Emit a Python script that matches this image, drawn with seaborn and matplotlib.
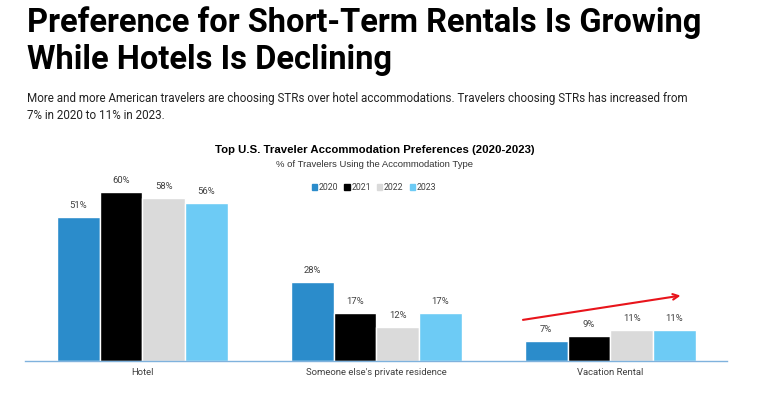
import matplotlib.pyplot as plt
import numpy as np
import pandas as pd
import seaborn as sns

categories = ["Hotel", "Someone else's private residence", "Vacation Rental"]
years = ["2020", "2021", "2022", "2023"]
share_2020 = [51, 28, 7]
share_2021 = [60, 17, 9]
share_2022 = [58, 12, 11]
share_2023 = [56, 17, 11]

colors = ["#2B8CCB", "#000000", "#DADADA", "#6DCBF5"]

rows = []
for yr, vals in zip(years, [share_2020, share_2021, share_2022, share_2023]):
    for cat, v in zip(categories, vals):
        rows.append({"category": cat, "year": yr, "share": v})
df = pd.DataFrame(rows)

sns.set_style("white")
plt.rcParams['font.family'] = ['Roboto', 'DejaVu Sans']
plt.rcParams['text.color'] = 'black'

fig = plt.figure(figsize=(7.68, 4.04), dpi=100)
ax = fig.add_axes([0.033, 0.106, 0.914, 0.448])

sns.barplot(data=df, x="category", y="share", hue="year", palette=colors,
            width=0.73, gap=0, ax=ax, legend=False, saturation=1)

for container in ax.containers:
    ax.bar_label(container, labels=[f"{int(v)}%" for v in container.datavalues],
                 padding=5, fontsize=6.8, color="#404040")

ax.set_ylim(0, 64.2)
ax.set_xlim(-0.5, 2.5)
ax.set_yticks([])
ax.set_xlabel("")
ax.set_ylabel("")
for s in ["top", "right", "left"]:
    ax.spines[s].set_visible(False)
ax.spines["bottom"].set_color("#7FB2DD")
ax.spines["bottom"].set_linewidth(1)
ax.tick_params(axis="x", which="major", length=0, labelsize=6.8,
               labelcolor="#404040", pad=5)
ax.set_xticks([-0.5, 0.5, 1.5, 2.5], minor=True)
ax.tick_params(axis="x", which="minor", length=3, color="#7FB2DD", width=0.8)

# trend arrow over vacation rentals
ax.annotate("", xy=(2.312, 23.4), xytext=(1.615, 14.5),
            arrowprops=dict(arrowstyle="->", color="#E8141B", lw=1.5,
                            mutation_scale=10))

handles = [plt.Rectangle((0, 0), 1, 1, color=c) for c in colors]
fig.legend(handles, years, loc="center", bbox_to_anchor=(0.487, 0.535), ncol=4,
           frameon=False, fontsize=6.3, handlelength=0.6, handleheight=0.6,
           handletextpad=0.2, columnspacing=0.7, labelcolor="#404040")

t1 = fig.text(0.035, 0.945, "Preference for Short-Term Rentals Is Growing",
              fontsize=20, fontweight="bold", va="center", ha="left")
t2 = fig.text(0.035, 0.852, "While Hotels Is Declining",
              fontsize=20, fontweight="bold", va="center", ha="left")
# scale the headline so its first line spans the same width as the reference
fig.canvas.draw()
w = t1.get_window_extent().width
size = 20 * 673 / w
t1.set_fontsize(size)
t2.set_fontsize(size)

body = fig.text(0.035, 0.735,
                "More and more American travelers are choosing STRs over hotel accommodations. "
                "Travelers choosing STRs has increased from\n7% in 2020 to 11% in 2023.",
                fontsize=8, va="center", ha="left", linespacing=1.4, color="#222222")
fig.canvas.draw()
bw = body.get_window_extent().width
body.set_fontsize(8 * 666 / bw)

fig.text(0.488, 0.628, "Top U.S. Traveler Accommodation Preferences (2020-2023)",
         fontsize=8.2, fontweight="bold", ha="center", va="center",
         family=["Liberation Sans", "DejaVu Sans"])
fig.text(0.488, 0.594, "% of Travelers Using the Accommodation Type",
         fontsize=6.8, ha="center", va="center", color="#333333",
         family=["Liberation Sans", "DejaVu Sans"])

fig.savefig("out.png", dpi=100)
